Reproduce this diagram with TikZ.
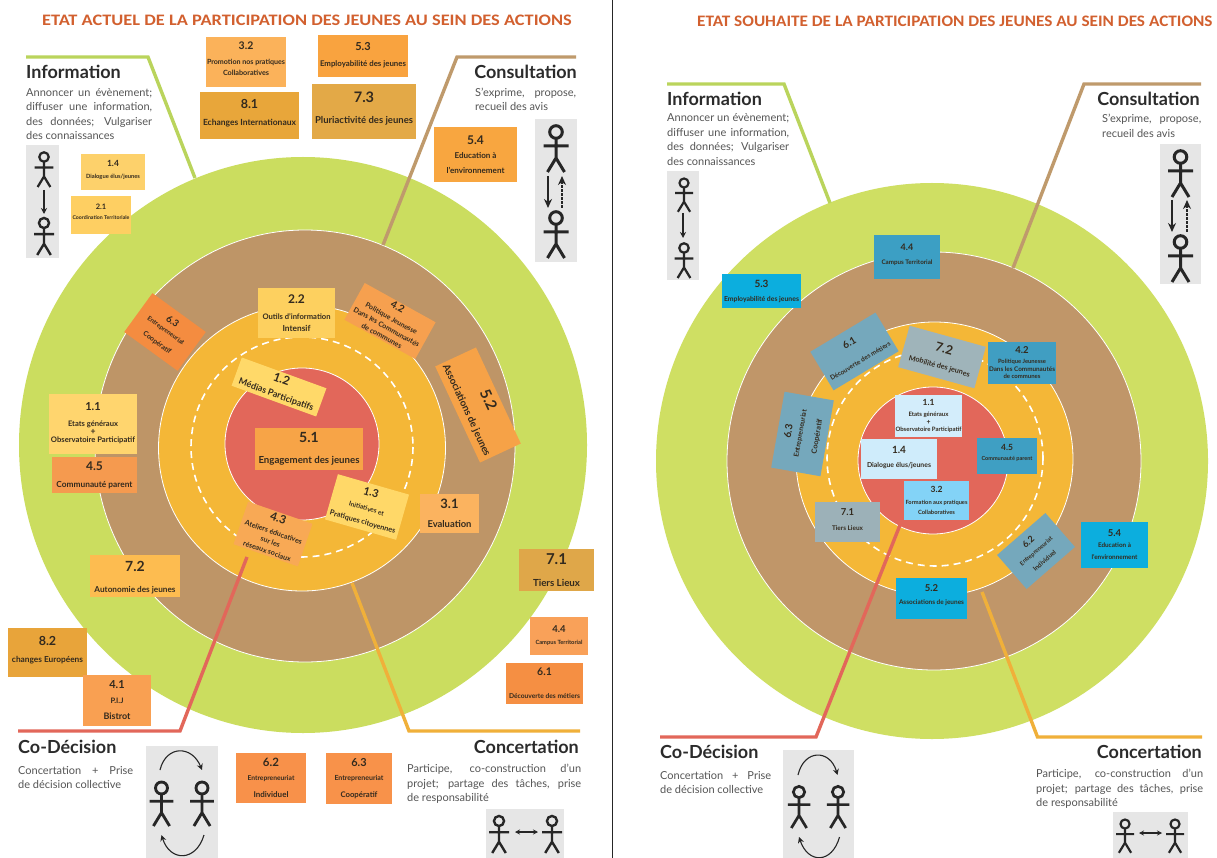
\documentclass[tikz,border=0pt]{standalone}
\usepackage{fontspec}
\setmainfont{Lato}
\newfontfamily\titlefont{Carlito}
\usetikzlibrary{arrows.meta}
\lineskiplimit=-100pt
\definecolor{cgreenL}{HTML}{CBDD5F}
\definecolor{cgreenR}{HTML}{CFDF63}
\definecolor{cbrownL}{HTML}{BE9567}
\definecolor{cbrownR}{HTML}{C09669}
\definecolor{corange}{HTML}{F4B737}
\definecolor{cred}{HTML}{E2675A}
\definecolor{cpanel}{HTML}{E6E6E6}
\definecolor{ctitle}{HTML}{D2602F}
\definecolor{cbody}{HTML}{555555}
\definecolor{cleadg}{HTML}{BAD45C}
\definecolor{cleadb}{HTML}{BF9A6C}
\definecolor{cleado}{HTML}{F0B03A}
\definecolor{cink}{HTML}{2B2B2B}
\definecolor{cboxink}{HTML}{332A1E}
\tikzset{
 x=1pt,y=-1pt,
 ring/.style={draw=white,line width=0.8pt},
 dashring/.style={draw=white,line width=1.6pt,dash pattern=on 7pt off 5pt},
 leader/.style={line width=3.4pt,line join=miter},
 panel/.style={fill=cpanel,draw=none},
 titletext/.style={font=\titlefont\bfseries\fontsize{16}{18}\selectfont,text=ctitle,inner sep=0,anchor=west},
 headtext/.style={font=\bfseries\fontsize{18}{20}\selectfont,text=cink,inner sep=0},
 desctext/.style={font=\fontsize{11}{14.5}\selectfont,text=cbody,inner sep=0,align=left},
 bx/.style={inner sep=0,outer sep=0,align=center,text=cboxink,draw=none,
   font=\bfseries\fontsize{6}{6}\selectfont},
 flow/.style={line width=1.7pt,draw=black!85,-{Stealth[length=6pt,width=6pt]}},
 bigflow/.style={line width=2.2pt,draw=black!85,-{Stealth[length=9pt,width=8pt]}},
 dflow/.style={line width=2.2pt,draw=black!85,-{Stealth[length=9pt,width=8pt]},dash pattern=on 2.5pt off 1.5pt},
 arcf/.style={line width=1.1pt,draw=black!85,-{Stealth[length=6pt,width=6pt]}},
 both/.style={line width=1.1pt,draw=black!85,{Stealth[length=5pt,width=5pt]}-{Stealth[length=5pt,width=5pt]}}
}
\newcommand{\stick}[3]{%
 \begin{scope}[shift={(#1,#2)},x=#3pt,y=-#3pt]
  \draw[line width=#3*3pt,black!85] (0,0) circle[radius=6.3*#3pt];
  \draw[line width=#3*3pt,black!85] (0,6.3)--(0,26) (-12.5,14)--(12.5,14) (-8.5,40)--(0,26)--(8.5,40);
 \end{scope}}
\newcommand{\bnum}[2]{{\fontsize{#1}{#1}\selectfont\bfseries #2}}
\newcommand{\blab}[2]{\resizebox{#1pt}{!}{\fontsize{10}{10}\selectfont\bfseries #2}}
\newcommand{\tup}[1]{\rule[-#1pt]{0pt}{0pt}}
\begin{document}
\begin{tikzpicture}
\useasboundingbox (0,0) rectangle (1217,858);
\fill[white] (0,0) rectangle (1217,858);
\draw[line width=1.8pt,black!85] (612.5,0)--(612.5,858);

% ---------- LEFT ----------
\node[titletext] (tL) at (42,20) {\scalebox{1.147}[1]{ETAT ACTUEL DE LA PARTICIPATION DES JEUNES AU SEIN DES ACTIONS}};
\fill[cgreenL] (303,445) ellipse[x radius=284,y radius=288];
\coordinate (lI) at (195,178); \coordinate (lIa) at (148,57); \coordinate (lIb) at (26,57);
\coordinate (lC) at (383,245); \coordinate (lCa) at (457,57); \coordinate (lCb) at (576,57);
\coordinate (lD) at (247,557); \coordinate (lDa) at (180,731); \coordinate (lDb) at (18,731);
\coordinate (lK) at (352,583); \coordinate (lKa) at (409,731); \coordinate (lKb) at (580,731);
\draw[ring,fill=cbrownL] (305,446) ellipse[x radius=210,y radius=216];
\draw[ring,fill=corange] (302,448) ellipse[x radius=143.5,y radius=143];
\draw[dashring] (302,447) ellipse[x radius=111,y radius=110];
\draw[ring,fill=cred] (302,444) ellipse[x radius=77,y radius=76];

\node[headtext,anchor=west] (hIL) at (26,72) {Information};
\node[headtext,anchor=east] (hCL) at (577,72) {Consultation};
\node[headtext,anchor=west] (hDL) at (18,747) {Co-Décision};
\node[headtext,anchor=east] (hKL) at (579,747) {Concertation};
\node[desctext,anchor=north west] (dIL) at (26,88) {\makebox[126pt][s]{Annoncer un évènement;}\\\makebox[126pt][s]{diffuser une information,}\\\makebox[126pt][s]{des données; Vulgariser}\\des connaissances};
\node[desctext,anchor=north west] (dCL) at (475,87.5) {\makebox[101pt][s]{S'exprime, propose,}\\recueil des avis};
\node[desctext,anchor=north west] (dDL) at (18,766) {\makebox[115pt][s]{Concertation + Prise}\\de décision collective};
\node[desctext,anchor=north west] (dKL) at (407,764) {\makebox[174pt][s]{Participe, co-construction d'un}\\\makebox[174pt][s]{projet; partage des tâches, prise}\\de responsabilité};

\fill[panel] (26,145) rectangle (59,258);
\stick{44}{157}{0.75}
\stick{44}{223}{0.8}
\coordinate (a1) at (44,190); \coordinate (a2) at (44,214);
\draw[flow] (a1)--(a2);
\fill[panel] (535,119) rectangle (577,262);
\stick{556}{132}{1}
\stick{556}{218}{1}
\coordinate (a3) at (548,176); \coordinate (a4) at (548,208);
\coordinate (a5) at (562,208); \coordinate (a6) at (562,176);
\draw[bigflow] (a3)--(a4);
\draw[dflow] (a5)--(a6);
\fill[panel] (146,746) rectangle (218,858);
\stick{161.5}{788}{0.95}
\stick{202}{788}{0.95}
\coordinate (a7) at (160,770); \coordinate (a8) at (202,770);
\coordinate (a9) at (204,835); \coordinate (a10) at (161.5,835);
\draw[arcf] (a7) .. controls (166,745) and (192,745) .. (a8);
\draw[arcf] (a9) .. controls (196,862) and (170,862) .. (a10);
\fill[panel] (486,809) rectangle (564,858);
\stick{499}{821}{0.8}
\stick{552}{821}{0.8}
\coordinate (a11) at (515,832); \coordinate (a12) at (538,832);
\draw[both] (a11)--(a12);

\node[bx,fill={rgb,255:red,251;green,178;blue,90},minimum width=80pt,minimum height=50pt] (L32) at (246,62) {\bnum{10.5}{3.2}\\[9pt]\blab{78}{Promotion nos pratiques}\\[5pt]\blab{46}{Collaboratives}\tup{6}};
\node[bx,fill={rgb,255:red,249;green,163;blue,63},minimum width=90pt,minimum height=42pt] (L53) at (363,56) {\bnum{11}{5.3}\\[10pt]\blab{86}{Employabilité des jeunes}\tup{4}};
\node[bx,fill={rgb,255:red,232;green,166;blue,58},minimum width=99pt,minimum height=47pt] (L81) at (249.5,115.5) {\bnum{12.5}{8.1}\\[11pt]\blab{93}{Echanges Internationaux}\tup{6}};
\node[bx,fill={rgb,255:red,227;green,169;blue,71},minimum width=104pt,minimum height=55pt] (L73) at (364,111.5) {\bnum{14.5}{7.3}\\[15pt]\blab{98}{Pluriactivité des jeunes}\tup{7}};
\node[bx,fill={rgb,255:red,248;green,166;blue,64},minimum width=83pt,minimum height=55pt] (L54) at (475.5,154.5) {\bnum{12}{5.4}\\[8pt]\blab{42}{Education à}\\[9pt]\blab{58}{l'environnement}};
\node[bx,fill={rgb,255:red,253;green,209;blue,107},minimum width=64pt,minimum height=36pt] (L14) at (113,172) {\bnum{8.5}{1.4}\\[6.5pt]\blab{54}{Dialogue élus/jeunes}\tup{5}};
\node[bx,fill={rgb,255:red,254;green,207;blue,98},minimum width=60pt,minimum height=38pt] (L21) at (101,215) {\bnum{7.5}{2.1}\\[4pt]\blab{57}{Coordination Territoriale}\tup{6}};
\node[bx,fill={rgb,255:red,253;green,208;blue,95},minimum width=77pt,minimum height=50pt] (L22) at (296.5,313) {\bnum{12}{2.2}\\[10pt]\blab{68}{Outils d'information}\\[6pt]\blab{28}{Intensif}};
\node[bx,fill={rgb,255:red,246;green,160;blue,79},minimum width=81pt,minimum height=42pt,rotate=-29] (L42) at (390,321) {\bnum{10}{4.2}\\[6pt]\blab{58}{Politique Jeunesse}\\[4pt]\blab{74}{Dans les Communautés}\\[4pt]\blab{45}{de communes}};
\node[bx,fill={rgb,255:red,244;green,140;blue,64},minimum width=66pt,minimum height=48pt,rotate=-36] (L63a) at (165,332) {\bnum{9.5}{6.3}\\[4pt]\blab{44}{Entrepreneuriat}\\[9pt]\blab{33}{Coopératif}};
\node[bx,fill={rgb,255:red,255;green,217;blue,105},minimum width=90pt,minimum height=30pt,rotate=-20] (L12) at (279,387) {\bnum{12}{1.2}\\[9pt]\blab{79}{Médias Participatifs}};
\node[bx,fill={rgb,255:red,246;green,162;blue,71},minimum width=106pt,minimum height=45pt,rotate=-65] (L52) at (478,405) {\bnum{15}{5.2}\\[16pt]\blab{100}{Associations de jeunes}};
\node[bx,fill={rgb,255:red,255;green,213;blue,110},minimum width=88pt,minimum height=60pt] (L11) at (93,424) {\bnum{11}{1.1}\\[10pt]\blab{50}{Etats généraux}\\[2pt]\blab{5}{+}\\[2pt]\blab{84}{Observatoire Participatif}\tup{2}};
\node[bx,fill={rgb,255:red,245;green,154;blue,79},minimum width=85pt,minimum height=36pt] (L45) at (94.5,475) {\bnum{12}{4.5}\\[11pt]\blab{76}{Communauté parent}};
\node[bx,fill={rgb,255:red,247;green,164;blue,71},minimum width=108pt,minimum height=42pt] (L51) at (309,449) {\bnum{14}{5.1}\\[15pt]\blab{101}{Engagement des jeunes}};
\node[bx,fill={rgb,255:red,255;green,216;blue,104},minimum width=74pt,minimum height=47pt,rotate=-16] (L13) at (367,507) {\bnum{11}{1.3}\\[9pt]\blab{36}{Initiatives et}\\[8pt]\blab{68}{Pratiques citoyennes}};
\node[bx,fill={rgb,255:red,251;green,179;blue,95},minimum width=59pt,minimum height=39pt] (L31) at (449.5,513.5) {\bnum{13}{3.1}\\[13pt]\blab{44}{Evaluation}};
\node[bx,fill={rgb,255:red,248;green,169;blue,85},minimum width=68pt,minimum height=45pt,rotate=-19] (L43) at (273,534) {\bnum{11.5}{4.3}\\[7pt]\blab{60}{Ateliers éducatives}\\[4pt]\blab{20}{sur les}\\[4pt]\blab{50}{réseaux sociaux}};
\node[bx,fill={rgb,255:red,253;green,188;blue,80},minimum width=90pt,minimum height=42pt] (L72) at (135,576) {\rule{0pt}{14pt}\bnum{14}{7.2}\\[15pt]\blab{81}{Autonomie des jeunes}};
\node[bx,fill={rgb,255:red,223;green,167;blue,73},minimum width=75pt,minimum height=42pt] (L71) at (556.5,570) {\bnum{15}{7.1}\\[16pt]\blab{47}{Tiers Lieux}};
\node[bx,fill={rgb,255:red,249;green,161;blue,89},minimum width=58pt,minimum height=38pt] (L44) at (559,636) {\bnum{9.5}{4.4}\\[6pt]\blab{47}{Campus Territorial}};
\node[bx,fill={rgb,255:red,245;green,143;blue,67},minimum width=77pt,minimum height=41pt] (L61) at (544.5,683.5) {\bnum{10.5}{6.1}\\[17pt]\blab{71}{Découverte des métiers}};
\node[bx,fill={rgb,255:red,232;green,164;blue,58},minimum width=79pt,minimum height=49pt] (L82) at (47.5,652.5) {\bnum{12.5}{8.2}\\[11pt]\blab{71}{changes Européens}\tup{6}};
\node[bx,fill={rgb,255:red,249;green,160;blue,82},minimum width=68pt,minimum height=51pt] (L41) at (117,700.5) {\bnum{11}{4.1}\\[9pt]\blab{13}{P.I.J}\\[10pt]\blab{27}{Bistrot}};
\node[bx,fill={rgb,255:red,248;green,145;blue,74},minimum width=70pt,minimum height=50pt] (L62) at (271,778) {\bnum{11.5}{6.2}\\[8.5pt]\blab{47}{Entrepreneuriat}\\[11pt]\blab{35}{Individuel}};
\node[bx,fill={rgb,255:red,248;green,146;blue,74},minimum width=66pt,minimum height=51pt] (L63) at (359,778.5) {\bnum{11}{6.3}\\[8.5pt]\blab{49}{Entrepreneuriat}\\[11pt]\blab{37}{Coopératif}};

\draw[leader,cleadg] (lIb)--(lIa)--(lI);
\draw[leader,cleadb] (lCb)--(lCa)--(lC);
\draw[leader,cred] (lDb)--(lDa)--(lD);
\draw[leader,cleado] (lKb)--(lKa)--(lK);

% ---------- RIGHT ----------
\node[titletext] (tR) at (697,21) {\scalebox{1.075}[1]{ETAT SOUHAITE DE LA PARTICIPATION DES JEUNES AU SEIN DES ACTIONS}};
\fill[cgreenR] (932,461) ellipse[x radius=276,y radius=278];
\coordinate (rI) at (830,203); \coordinate (rIa) at (784,84); \coordinate (rIb) at (667,84);
\coordinate (rC) at (1013,268); \coordinate (rCa) at (1084,84); \coordinate (rCb) at (1201,84);
\coordinate (rD) at (900,525); \coordinate (rDa) at (816,737); \coordinate (rDb) at (660,737);
\coordinate (rK) at (982,592); \coordinate (rKa) at (1037.5,737); \coordinate (rKb) at (1202,737);
\draw[ring,fill=cbrownR] (934,461) ellipse[x radius=207,y radius=209];
\draw[ring,fill=corange] (934.5,459) ellipse[x radius=138.5,y radius=137];
\draw[dashring] (935,458) ellipse[x radius=108,y radius=108];
\draw[ring,fill=cred] (933,460.5) ellipse[x radius=75,y radius=73.5];
\draw[leader,cleadg] (rIb)--(rIa)--(rI);
\draw[leader,cleadb] (rCb)--(rCa)--(rC);
\draw[leader,cred] (rDb)--(rDa)--(rD);
\draw[leader,cleado] (rKb)--(rKa)--(rK);

\node[headtext,anchor=west] (hIR) at (667,99) {Information};
\node[headtext,anchor=east] (hCR) at (1200,99) {Consultation};
\node[headtext,anchor=west] (hDR) at (660,752) {Co-Décision};
\node[headtext,anchor=east] (hKR) at (1202,752) {Concertation};
\node[desctext,anchor=north west] (dIR) at (667,113.5) {\makebox[122pt][s]{Annoncer un évènement;}\\\makebox[122pt][s]{diffuser une information,}\\\makebox[122pt][s]{des données; Vulgariser}\\des connaissances};
\node[desctext,anchor=north west] (dCR) at (1102,114) {\makebox[99pt][s]{S'exprime, propose,}\\recueil des avis};
\node[desctext,anchor=north west] (dDR) at (660,771) {\makebox[111pt][s]{Concertation + Prise}\\de décision collective};
\node[desctext,anchor=north west] (dKR) at (1036,769) {\makebox[167pt][s]{Participe, co-construction d'un}\\\makebox[167pt][s]{projet; partage des tâches, prise}\\de responsabilité};

\fill[panel] (667,171) rectangle (699,280);
\stick{684}{183}{0.72}
\stick{684}{248}{0.75}
\coordinate (b1) at (683,213); \coordinate (b2) at (683,238);
\draw[flow] (b1)--(b2);
\fill[panel] (1160,144) rectangle (1201,284);
\stick{1180.5}{157}{1}
\stick{1180.5}{242}{1}
\coordinate (b3) at (1172,200); \coordinate (b4) at (1172,232);
\coordinate (b5) at (1187,232); \coordinate (b6) at (1187,200);
\draw[bigflow] (b3)--(b4);
\draw[dflow] (b5)--(b6);
\fill[panel] (783,750) rectangle (854,858);
\stick{799}{792}{0.9}
\stick{838}{792}{0.9}
\coordinate (b7) at (798,775); \coordinate (b8) at (837.5,775);
\coordinate (b9) at (839.5,837); \coordinate (b10) at (799,837);
\draw[arcf] (b7) .. controls (804,749) and (830,749) .. (b8);
\draw[arcf] (b9) .. controls (832,864) and (808,864) .. (b10);
\fill[panel] (1113,812) rectangle (1188,858);
\stick{1125}{824}{0.72}
\stick{1175}{824}{0.72}
\coordinate (b11) at (1139,833); \coordinate (b12) at (1162,833);
\draw[both] (b11)--(b12);

\node[bx,fill={rgb,255:red,60;green,159;blue,196},minimum width=66pt,minimum height=44pt] (R44) at (907,257) {\bnum{9}{4.4}\\[8pt]\blab{51}{Campus Territorial}\tup{6}};
\node[bx,fill={rgb,255:red,12;green,174;blue,222},minimum width=79pt,minimum height=34pt] (R53) at (761.5,291) {\bnum{10}{5.3}\\[8pt]\blab{75}{Employabilité des jeunes}};
\node[bx,fill={rgb,255:red,117;green,168;blue,188},minimum width=76pt,minimum height=45pt,rotate=31] (R61) at (854.5,351.5) {\bnum{10}{6.1}\\[14pt]\blab{69}{Découverte des métiers}};
\node[bx,fill={rgb,255:red,159;green,180;blue,186},minimum width=79pt,minimum height=43pt,rotate=-15.5] (R72) at (942,357) {\bnum{12.5}{7.2}\\[10pt]\blab{63}{Mobilité des jeunes}};
\node[bx,fill={rgb,255:red,64;green,158;blue,194},minimum width=68pt,minimum height=42pt] (R42) at (1022,363) {\bnum{9.5}{4.2}\\[4pt]\blab{48}{Politique Jeunesse}\\[1.5pt]\blab{66}{Dans les Communautés}\\[1.5pt]\blab{37}{de communes}};
\node[bx,fill={rgb,255:red,117;green,168;blue,188},minimum width=77pt,minimum height=50pt,rotate=80] (R63) at (802.5,434) {\bnum{10}{6.3}\\[5pt]\blab{48}{Entrepreneuriat}\\[11pt]\blab{35}{Coopératif}};
\node[bx,fill={rgb,255:red,211;green,237;blue,251},minimum width=67pt,minimum height=42pt] (R11) at (928.5,416) {\bnum{8.5}{1.1}\\[5pt]\blab{40}{Etats généraux}\\[1.5pt]\blab{4}{+}\\[1.5pt]\blab{66}{Observatoire Participatif}};
\node[bx,fill={rgb,255:red,207;green,236;blue,251},minimum width=76pt,minimum height=40pt] (R14) at (899,459) {\bnum{10}{1.4}\\[8pt]\blab{64}{Dialogue élus/jeunes}\tup{4}};
\node[bx,fill={rgb,255:red,63;green,159;blue,195},minimum width=60pt,minimum height=36pt] (R45) at (1007,456) {\bnum{8.5}{4.5}\\[4pt]\blab{51}{Communauté parent}\tup{7}};
\node[bx,fill={rgb,255:red,131;green,211;blue,247},minimum width=65pt,minimum height=39pt] (R32) at (936.5,500.5) {\bnum{8.5}{3.2}\\[6pt]\blab{62}{Formation aux pratiques}\\[4pt]\blab{37}{Collaboratives}};
\node[bx,fill={rgb,255:red,156;green,177;blue,184},minimum width=65pt,minimum height=40pt] (R71) at (847.5,522) {\bnum{9.5}{7.1}\\[9pt]\blab{31}{Tiers Lieux}\tup{4}};
\node[bx,fill={rgb,255:red,117;green,168;blue,188},minimum width=64pt,minimum height=45pt,rotate=41] (R62) at (1036,551) {\bnum{9}{6.2}\\[5pt]\blab{41}{Entrepreneuriat}\\[7pt]\blab{28}{Individuel}};
\node[bx,fill={rgb,255:red,12;green,174;blue,222},minimum width=67pt,minimum height=46pt] (R54) at (1114.5,545) {\bnum{9.5}{5.4}\\[5pt]\blab{33}{Education à}\\[6pt]\blab{46}{l'environnement}};
\node[bx,fill={rgb,255:red,12;green,174;blue,222},minimum width=71pt,minimum height=41pt] (R52) at (931.5,598.5) {\bnum{9.5}{5.2}\\[7pt]\blab{65}{Associations de jeunes}\tup{7}};
\end{tikzpicture}
\end{document}
